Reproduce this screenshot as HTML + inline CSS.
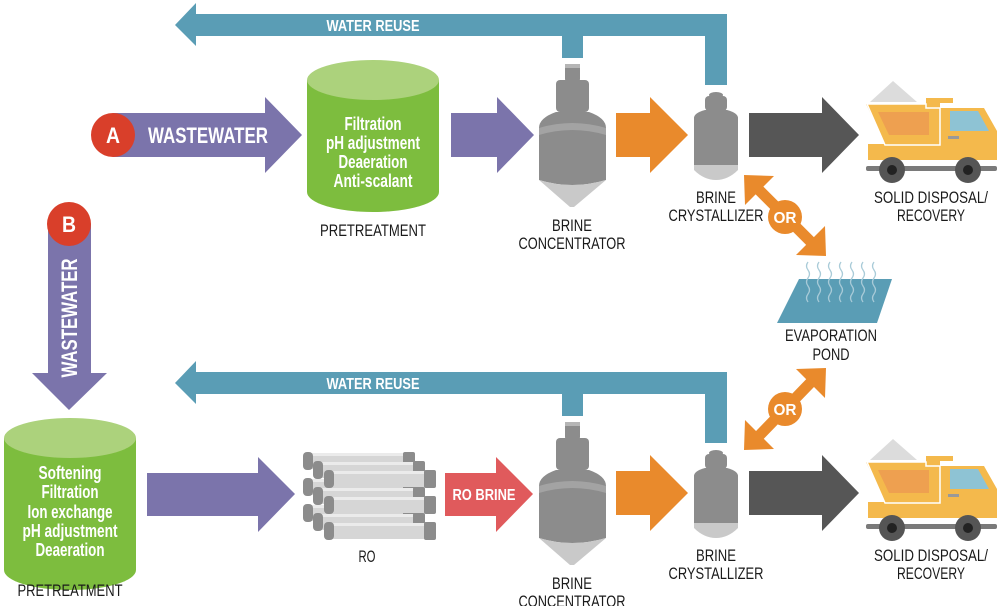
<!DOCTYPE html>
<html><head><meta charset="utf-8"><style>
html,body{margin:0;padding:0;background:#fff;}
svg{display:block}
text{font-family:"Liberation Sans",sans-serif;}
.lb{font-size:17px;fill:#1a1a1a;text-anchor:middle;}
.wt{font-size:18px;fill:#fff;font-weight:bold;text-anchor:middle;}
</style></head><body>
<svg width="1000" height="606" viewBox="0 0 1000 606" xmlns="http://www.w3.org/2000/svg">
<defs>
<g id="row">
  <polygon points="175,25 196,3 196,14 727,14 727,85 705,85 705,36 583,36 583,58 562,58 562,36 196,36 196,46" fill="#5a9db5"/>
  <text x="373" y="31" class="wt" style="font-size:16px" textLength="93" lengthAdjust="spacingAndGlyphs">WATER REUSE</text>
  <rect x="565" y="64" width="15" height="18" rx="3" fill="#8c8c8c"/>
  <rect x="565" y="64" width="15" height="4" fill="#b5b5b5"/>
  <rect x="556" y="80" width="33" height="32" rx="4" fill="#8c8c8c"/>
  <path d="M556,112 L589,112 Q606,118 606,128 L606,180 Q572,190 539,180 L539,128 Q539,118 556,112Z" fill="#8c8c8c"/>
  <path d="M539,128 Q572,118 606,128 L606,135 Q572,125 539,135Z" fill="#a3a3a3"/>
  <path d="M539,180 Q572,190 606,180 L574,207 L570,207Z" fill="#c9c9c9"/>
  <polygon points="616,113 650,113 650,97 688,135 650,173 650,157 616,157" fill="#e98a2c"/>
  <ellipse cx="716" cy="95" rx="7" ry="3" fill="#8c8c8c"/>
  <rect x="705" y="96" width="22" height="15" rx="4" fill="#8c8c8c"/>
  <path d="M705,110 L727,110 Q738,113 738,118 L738,165 L694,165 L694,118 Q694,113 705,110Z" fill="#8c8c8c"/>
  <path d="M694,165 L738,165 L738,170 Q728,180 716,180 Q704,180 694,170Z" fill="#c9c9c9"/>
  <polygon points="749,113 822,113 822,97 859,135 822,173 822,157 749,157" fill="#565656"/>
  <polygon points="870,102 893,81 917,102" fill="#dcdcdc"/>
  <polygon points="866,104 926,104 926,98 953,98 953,103 940,103 940,108 984,108 997,131 997,160 868,160 868,144 885,144" fill="#f4b94c"/>
  <polygon points="867,104 926,104 926,108 940,108 940,145 885,145" fill="#f4b94c" stroke="#fff" stroke-width="1.5"/>
  <polygon points="878,112 929,112 929,135 889,135" fill="#eea050"/>
  <polygon points="950,111 978,111 989,131 950,131" fill="#8ec3d4"/>
  <rect x="948" y="136" width="11" height="3" fill="#999"/>
  <rect x="866" y="166" width="131" height="5" rx="2" fill="#7a7a7a"/>
  <circle cx="892" cy="170" r="13" fill="#555"/><circle cx="892" cy="170" r="5" fill="#222"/>
  <circle cx="968" cy="170" r="13" fill="#555"/><circle cx="968" cy="170" r="5" fill="#222"/>
  <text x="572" y="231" class="lb" textLength="40" lengthAdjust="spacingAndGlyphs">BRINE</text>
  <text x="572" y="249" class="lb" textLength="107" lengthAdjust="spacingAndGlyphs">CONCENTRATOR</text>
  <text x="716" y="203" class="lb" textLength="40" lengthAdjust="spacingAndGlyphs">BRINE</text>
  <text x="716" y="221" class="lb" textLength="95" lengthAdjust="spacingAndGlyphs">CRYSTALLIZER</text>
  <text x="931" y="203" class="lb" textLength="114" lengthAdjust="spacingAndGlyphs">SOLID DISPOSAL/</text>
  <text x="931" y="221" class="lb" textLength="68" lengthAdjust="spacingAndGlyphs">RECOVERY</text>
</g>
</defs>
<use href="#row"/>
<use href="#row" transform="translate(0,358)"/>

<polygon points="113,113 265,113 265,97 302,135 265,173 265,157 113,157" fill="#7b74ab"/>
<circle cx="113" cy="135" r="22" fill="#d93f2a"/>
<text x="113" y="143" class="wt" style="font-size:22px" textLength="14" lengthAdjust="spacingAndGlyphs">A</text>
<text x="208" y="143" class="wt" style="font-size:22px" textLength="120" lengthAdjust="spacingAndGlyphs">WASTEWATER</text>
<path d="M307,80 L307,192 A66,20 0 0 0 439,192 L439,80Z" fill="#7dbd3e"/>
<ellipse cx="373" cy="80" rx="66" ry="20" fill="#acd27c"/>
<text x="373" y="130" class="wt" textLength="57" lengthAdjust="spacingAndGlyphs">Filtration</text>
<text x="373" y="149" class="wt" textLength="94" lengthAdjust="spacingAndGlyphs">pH adjustment</text>
<text x="373" y="168" class="wt" textLength="69" lengthAdjust="spacingAndGlyphs">Deaeration</text>
<text x="373" y="187" class="wt" textLength="79" lengthAdjust="spacingAndGlyphs">Anti-scalant</text>
<text x="373" y="236" class="lb" textLength="106" lengthAdjust="spacingAndGlyphs">PRETREATMENT</text>
<polygon points="451,113 497,113 497,97 534,135 497,173 497,157 451,157" fill="#7b74ab"/>

<g fill="#e98a2c">
  <line x1="755" y1="186" x2="815" y2="246" stroke="#e98a2c" stroke-width="11"/>
  <polygon points="744,175 774,176 745,205"/>
  <polygon points="826,256 796,255 825,226"/>
  <circle cx="785" cy="217" r="17"/>
  <line x1="755" y1="440" x2="815" y2="378" stroke="#e98a2c" stroke-width="11"/>
  <polygon points="744,450 745,420 774,449"/>
  <polygon points="826,368 796,369 825,398"/>
  <circle cx="785" cy="409" r="17"/>
</g>
<text x="785" y="223" class="wt" style="font-size:16px" textLength="23" lengthAdjust="spacingAndGlyphs">OR</text>
<text x="785" y="415" class="wt" style="font-size:16px" textLength="23" lengthAdjust="spacingAndGlyphs">OR</text>

<polygon points="799,279 892,279 877,323 777,323" fill="#5a9db5"/>
<g fill="none" stroke="#a9cbd8" stroke-width="1.3">
  <path d="M808,262 q-3,4 0,8 q3,4 0,8 q-3,4 0,8 q3,4 0,8 q-3,4 0,8"/>
  <path d="M819,262 q-3,4 0,8 q3,4 0,8 q-3,4 0,8 q3,4 0,8 q-3,4 0,8"/>
  <path d="M830,262 q-3,4 0,8 q3,4 0,8 q-3,4 0,8 q3,4 0,8 q-3,4 0,8"/>
  <path d="M841,262 q-3,4 0,8 q3,4 0,8 q-3,4 0,8 q3,4 0,8 q-3,4 0,8"/>
  <path d="M852,262 q-3,4 0,8 q3,4 0,8 q-3,4 0,8 q3,4 0,8 q-3,4 0,8"/>
  <path d="M863,262 q-3,4 0,8 q3,4 0,8 q-3,4 0,8 q3,4 0,8 q-3,4 0,8"/>
  <path d="M874,262 q-3,4 0,8 q3,4 0,8 q-3,4 0,8 q3,4 0,8 q-3,4 0,8"/>
</g>
<text x="831" y="341" class="lb" textLength="92" lengthAdjust="spacingAndGlyphs">EVAPORATION</text>
<text x="831" y="360" class="lb" textLength="37" lengthAdjust="spacingAndGlyphs">POND</text>

<polygon points="48,224 91,224 91,373 107,373 69,410 32,373 48,373" fill="#7b74ab"/>
<circle cx="69" cy="224" r="22" fill="#d93f2a"/>
<text x="69" y="232" class="wt" style="font-size:22px" textLength="14" lengthAdjust="spacingAndGlyphs">B</text>
<text transform="translate(77,318) rotate(-90)" class="wt" style="font-size:22px" textLength="119" lengthAdjust="spacingAndGlyphs">WASTEWATER</text>
<path d="M4,438 L4,570 A66,20 0 0 0 136,570 L136,438Z" fill="#7dbd3e"/>
<ellipse cx="70" cy="438" rx="66" ry="20" fill="#acd27c"/>
<text x="70" y="479" class="wt" textLength="63" lengthAdjust="spacingAndGlyphs">Softening</text>
<text x="70" y="498" class="wt" textLength="57" lengthAdjust="spacingAndGlyphs">Filtration</text>
<text x="70" y="518" class="wt" textLength="85" lengthAdjust="spacingAndGlyphs">Ion exchange</text>
<text x="70" y="537" class="wt" textLength="95" lengthAdjust="spacingAndGlyphs">pH adjustment</text>
<text x="70" y="556" class="wt" textLength="69" lengthAdjust="spacingAndGlyphs">Deaeration</text>
<text x="70" y="596" class="lb" textLength="105" lengthAdjust="spacingAndGlyphs">PRETREATMENT</text>
<polygon points="147,473 258,473 258,457 295,494 258,532 258,516 147,516" fill="#7b74ab"/>

<g>
  <g id="tube">
    <rect x="308" y="453" width="100" height="16" fill="#d6d6d6"/>
    <rect x="308" y="453" width="100" height="3" fill="#ebebeb"/>
    <rect x="403" y="452" width="12" height="18" rx="2" fill="#8c8c8c"/>
    <rect x="303" y="452" width="10" height="18" rx="4" fill="#8c8c8c"/>
  </g>
  <use href="#tube" transform="translate(0,26)"/>
  <use href="#tube" transform="translate(0,52)"/>
  <use href="#tube" transform="translate(10,9)"/>
  <use href="#tube" transform="translate(10,35)"/>
  <use href="#tube" transform="translate(10,61)"/>
  <use href="#tube" transform="translate(21,18)"/>
  <use href="#tube" transform="translate(21,44)"/>
  <use href="#tube" transform="translate(21,70)"/>
</g>
<text x="367" y="562" class="lb" textLength="17" lengthAdjust="spacingAndGlyphs">RO</text>
<polygon points="445,473 496,473 496,457 533,494 496,532 496,516 445,516" fill="#e05a5c"/>
<text x="484" y="500" class="wt" style="font-size:16px" textLength="63" lengthAdjust="spacingAndGlyphs">RO BRINE</text>
</svg>
</body></html>
